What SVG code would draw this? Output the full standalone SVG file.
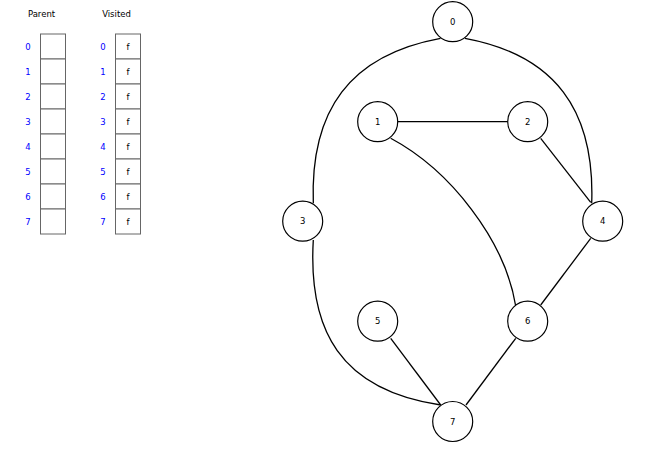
<svg xmlns="http://www.w3.org/2000/svg" width="646" height="466" viewBox="0 0 646 466">
<style>
.lbl{font-family:"DejaVu Sans",Verdana,sans-serif;font-size:8.5px;fill:#000;text-anchor:middle;dominant-baseline:central}
.idx{font-family:"DejaVu Sans",Verdana,sans-serif;font-size:8.5px;fill:#0000ff;text-anchor:middle;dominant-baseline:central}
.cell{fill:#fff;stroke:#666;stroke-width:1}
.node circle{fill:#fff;stroke:#000;stroke-width:1.2}
.edge{fill:none;stroke:#000;stroke-width:1.3}
</style>
<rect width="646" height="466" fill="#fff"/>
<g id="parent-table">
<text class="lbl" x="41.5" y="13.5">Parent</text>
<rect class="cell" x="40.5" y="34" width="25" height="25"/>
<rect class="cell" x="40.5" y="59" width="25" height="25"/>
<rect class="cell" x="40.5" y="84" width="25" height="25"/>
<rect class="cell" x="40.5" y="109" width="25" height="25"/>
<rect class="cell" x="40.5" y="134" width="25" height="25"/>
<rect class="cell" x="40.5" y="159" width="25" height="25"/>
<rect class="cell" x="40.5" y="184" width="25" height="25"/>
<rect class="cell" x="40.5" y="209" width="25" height="25"/>
<text class="idx" x="28" y="46.5">0</text>
<text class="idx" x="28" y="71.5">1</text>
<text class="idx" x="28" y="96.5">2</text>
<text class="idx" x="28" y="121.5">3</text>
<text class="idx" x="28" y="146.5">4</text>
<text class="idx" x="28" y="171.5">5</text>
<text class="idx" x="28" y="196.5">6</text>
<text class="idx" x="28" y="221.5">7</text>
</g>
<g id="visited-table">
<text class="lbl" x="116.5" y="13.5">Visited</text>
<rect class="cell" x="115.5" y="34" width="25" height="25"/>
<rect class="cell" x="115.5" y="59" width="25" height="25"/>
<rect class="cell" x="115.5" y="84" width="25" height="25"/>
<rect class="cell" x="115.5" y="109" width="25" height="25"/>
<rect class="cell" x="115.5" y="134" width="25" height="25"/>
<rect class="cell" x="115.5" y="159" width="25" height="25"/>
<rect class="cell" x="115.5" y="184" width="25" height="25"/>
<rect class="cell" x="115.5" y="209" width="25" height="25"/>
<text class="idx" x="103" y="46.5">0</text>
<text class="idx" x="103" y="71.5">1</text>
<text class="idx" x="103" y="96.5">2</text>
<text class="idx" x="103" y="121.5">3</text>
<text class="idx" x="103" y="146.5">4</text>
<text class="idx" x="103" y="171.5">5</text>
<text class="idx" x="103" y="196.5">6</text>
<text class="idx" x="103" y="221.5">7</text>
<text class="lbl" x="128" y="46.5">f</text>
<text class="lbl" x="128" y="71.5">f</text>
<text class="lbl" x="128" y="96.5">f</text>
<text class="lbl" x="128" y="121.5">f</text>
<text class="lbl" x="128" y="146.5">f</text>
<text class="lbl" x="128" y="171.5">f</text>
<text class="lbl" x="128" y="196.5">f</text>
<text class="lbl" x="128" y="221.5">f</text>
</g>
<g id="connectors">
<path class="edge" d="M440.5,38.3 C350,55 310,110 313.3,203.3"/>
<path class="edge" d="M465,38.3 C555,55 595,110 591.7,203.3"/>
<path class="edge" d="M313.3,240 C308,330 340,390 440.7,405"/>
<path class="edge" d="M390.7,138.3 C450,170 505,240 515.7,306"/>
<path class="edge" d="M397.7,121.7 L507.7,121.7"/>
<path class="edge" d="M540.7,138.3 L590.7,202.3"/>
<path class="edge" d="M590.7,238.3 L540.7,305"/>
<path class="edge" d="M515.7,338.3 L466,405"/>
<path class="edge" d="M390.7,338.3 L440.7,405"/>
</g>
<g id="node-0" class="node"><circle cx="452.7" cy="21.7" r="20"/><text class="lbl" x="452.7" y="21.7">0</text></g>
<g id="node-1" class="node"><circle cx="377.7" cy="121.7" r="20"/><text class="lbl" x="377.7" y="121.7">1</text></g>
<g id="node-2" class="node"><circle cx="527.7" cy="121.7" r="20"/><text class="lbl" x="527.7" y="121.7">2</text></g>
<g id="node-3" class="node"><circle cx="302.7" cy="221.2" r="20"/><text class="lbl" x="302.7" y="221.2">3</text></g>
<g id="node-4" class="node"><circle cx="602.7" cy="221.2" r="20"/><text class="lbl" x="602.7" y="221.2">4</text></g>
<g id="node-5" class="node"><circle cx="377.7" cy="321.2" r="20"/><text class="lbl" x="377.7" y="321.2">5</text></g>
<g id="node-6" class="node"><circle cx="527.7" cy="321.2" r="20"/><text class="lbl" x="527.7" y="321.2">6</text></g>
<g id="node-7" class="node"><circle cx="452.7" cy="421.5" r="20"/><text class="lbl" x="452.7" y="421.5">7</text></g>
</svg>
